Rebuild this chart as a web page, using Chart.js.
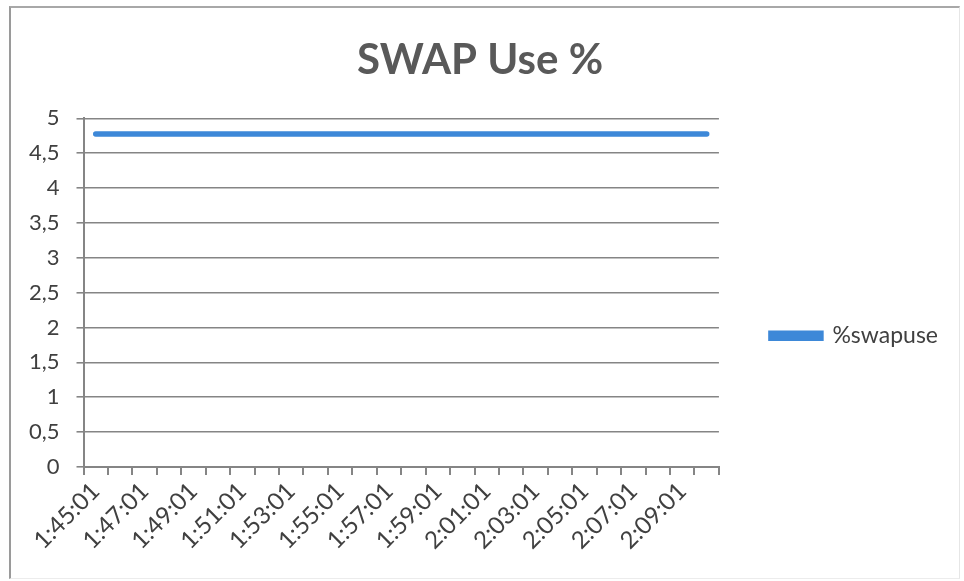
<!DOCTYPE html>
<html lang="pt-BR">

<head>
    <meta charset="UTF-8">
    <script src="https://cdn.jsdelivr.net/npm/chart.js"></script>
    <title>SWAP Use %</title>
    <style>
        body { margin: 0; background: #ffffff; }
        #divGrafico { position: relative; width: 964px; height: 581px; }
        #moldura {
            position: absolute; left: 9px; top: 6px; width: 948px; height: 570px;
            border-left: 2px solid #9a9a9a; border-top: 2px solid #a8a8a8;
            border-right: 1px solid #e6e6e6; border-bottom: 1px solid #ececec;
            pointer-events: none;
        }
    </style>
</head>

<body>
    <div id="divGrafico">
        <canvas id="swapChart" width="964" height="581"></canvas>
        <div id="moldura"></div>
    </div>
</body>

</html>

<script>
    // horarios das coletas (a cada minuto)
    const horarios = [
        '1:45:01', '1:46:01', '1:47:01', '1:48:01', '1:49:01', '1:50:01', '1:51:01',
        '1:52:01', '1:53:01', '1:54:01', '1:55:01', '1:56:01', '1:57:01', '1:58:01',
        '1:59:01', '2:00:01', '2:01:01', '2:02:01', '2:03:01', '2:04:01', '2:05:01',
        '2:06:01', '2:07:01', '2:08:01', '2:09:01', '2:10:01'
    ]
    const swapUse = [
        4.775, 4.775, 4.775, 4.775, 4.775, 4.775, 4.775, 4.775, 4.775, 4.775, 4.775, 4.775, 4.775,
        4.775, 4.775, 4.775, 4.775, 4.775, 4.775, 4.775, 4.775, 4.775, 4.775, 4.775, 4.775, 4.775
    ]
    const ticksY = [0, 0.5, 1, 1.5, 2, 2.5, 3, 3.5, 4, 4.5, 5]

    const corTexto = '#404040'
    const azul = '#3d88d8'

    new Chart(swapChart, {
        type: 'line',
        data: {
            labels: horarios,
            datasets: [{
                label: '%swapuse',
                data: swapUse,
                borderColor: azul,
                backgroundColor: azul,
                borderWidth: 5.5,
                borderCapStyle: 'round',
                pointRadius: 0,
                tension: 0
            }]
        },
        options: {
            responsive: false,
            animation: false,
            layout: { padding: { left: 12, right: 16, top: 0, bottom: 24 } },
            plugins: {
                title: {
                    display: true,
                    text: 'SWAP Use %',
                    color: '#595959',
                    font: { family: 'Lato', size: 42, weight: 'bold' },
                    padding: { top: 35, bottom: 33 }
                },
                legend: {
                    position: 'right',
                    // titulo vazio so para empurrar a legenda para baixo
                    title: { display: true, text: '', padding: { top: 50, bottom: 50 } },
                    labels: {
                        color: corTexto,
                        font: { family: 'Lato', size: 23 },
                        boxWidth: 50,
                        boxHeight: 5,
                        padding: 52
                    }
                },
                tooltip: { enabled: false }
            },
            scales: {
                x: {
                    offset: true,
                    border: { color: '#858585', width: 2 },
                    grid: {
                        offset: true,
                        drawOnChartArea: false,
                        drawTicks: true,
                        tickLength: 8,
                        color: '#858585',
                        lineWidth: 2
                    },
                    ticks: {
                        autoSkip: false,
                        minRotation: 45,
                        maxRotation: 45,
                        color: corTexto,
                        font: { family: 'Lato', size: 24 },
                        padding: 2,
                        callback: (v, i) => i % 2 ? '' : horarios[i]
                    }
                },
                y: {
                    min: 0,
                    max: 5,
                    afterBuildTicks: escala => {
                        escala.ticks = ticksY.map(v => ({ value: v }))
                    },
                    border: { color: '#858585', width: 2 },
                    grid: {
                        color: '#858585',
                        lineWidth: 1.6,
                        tickLength: 7
                    },
                    ticks: {
                        color: corTexto,
                        font: { family: 'Lato', size: 22 },
                        padding: 17,
                        callback: v => String(v).replace('.', ',')
                    }
                }
            }
        }
    });
</script>
